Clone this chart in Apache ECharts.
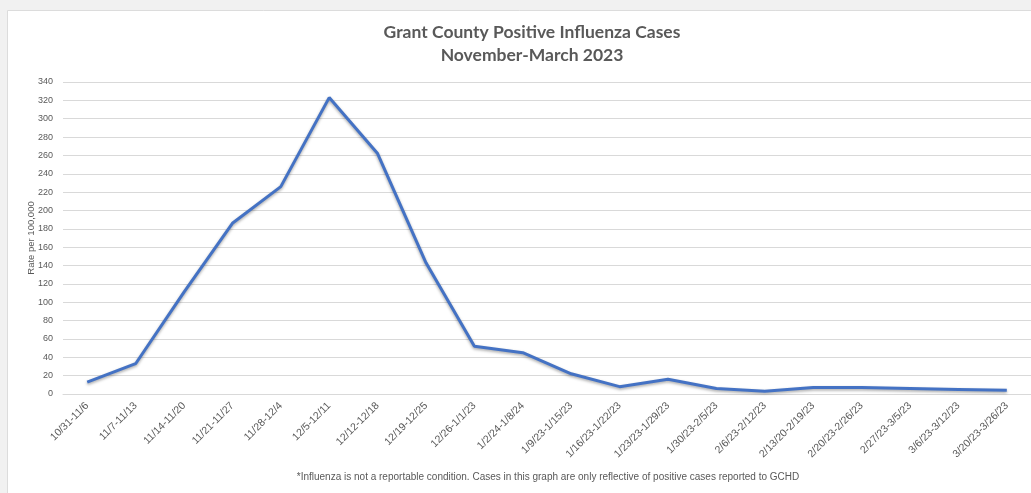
<!DOCTYPE html>
<html>
<head>
<meta charset="utf-8">
<script src="https://cdn.jsdelivr.net/npm/echarts@6/dist/echarts.min.js"></script>
<style>
html,body{margin:0;padding:0;background:#f1f1f1;}
#c{width:1031px;height:493px;}
</style>
</head>
<body>
<div id="c"></div>
<script>
const categories = ["10/31-11/6","11/7-11/13","11/14-11/20","11/21-11/27","11/28-12/4","12/5-12/11","12/12-12/18","12/19-12/25","12/26-1/1/23","1/2/24-1/8/24","1/9/23-1/15/23","1/16/23-1/22/23","1/23/23-1/29/23","1/30/23-2/5/23","2/6/23-2/12/23","2/13/20-2/19/23","2/20/23-2/26/23","2/27/23-3/5/23","3/6/23-3/12/23","3/20/23-3/26/23"];
const rates = [13, 33, 111, 186, 226, 323, 262, 143, 52, 45, 22, 8, 16, 6, 3, 7, 7, 6, 5, 4];
const titleLines = ["Grant County Positive Influenza Cases", "November-March 2023"];
const yAxisName = "Rate per 100,000";
const footnote = "*Influenza is not a reportable condition. Cases in this graph are only reflective of positive cases reported to GCHD";

const chart = echarts.init(document.getElementById('c'));
const gray = '#595959';
chart.setOption({
  backgroundColor: '#f1f1f1',
  animation: false,
  graphic: [
    {type: 'rect', shape: {x: 7.5, y: 10.5, width: 1040, height: 500}, style: {fill: '#ffffff', stroke: '#dcdcdc', lineWidth: 1}, z: -10},
    {type: 'text', x: 548, y: 477, style: {text: footnote, fill: gray, font: '10px "Liberation Sans", sans-serif', align: 'center', verticalAlign: 'middle'}}
  ],
  title: {
    text: titleLines.join('\n'),
    left: 527, textAlign: 'center', top: 16,
    textStyle: {fontFamily: 'Lato', fontWeight: 'bold', fontSize: 17.5, color: gray, lineHeight: 23}
  },
  grid: {left: 63, right: 0, top: 82, bottom: 99},
  xAxis: {
    type: 'category', data: categories, boundaryGap: true,
    axisLine: {lineStyle: {color: '#d9d9d9'}},
    axisTick: {show: false},
    axisLabel: {rotate: 45, color: gray, fontSize: 10.5, fontFamily: 'Liberation Sans', margin: 10, interval: 0}
  },
  yAxis: {
    type: 'value', min: 0, max: 340, interval: 20,
    name: yAxisName, nameLocation: 'middle', nameGap: 27, nameMoveOverlap: false,
    nameTextStyle: {color: gray, fontSize: 9.5, fontFamily: 'Liberation Sans'},
    axisLine: {show: false}, axisTick: {show: false},
    axisLabel: {color: gray, fontSize: 9, fontFamily: 'Liberation Sans', margin: 10},
    splitLine: {lineStyle: {color: '#d9d9d9', width: 1}}
  },
  series: [{
    type: 'line', data: rates, symbol: 'none',
    lineStyle: {color: '#4472c4', width: 3, shadowColor: 'rgba(0,0,0,0.35)', shadowBlur: 3, shadowOffsetY: 1.5}
  }]
});
</script>
</body>
</html>
